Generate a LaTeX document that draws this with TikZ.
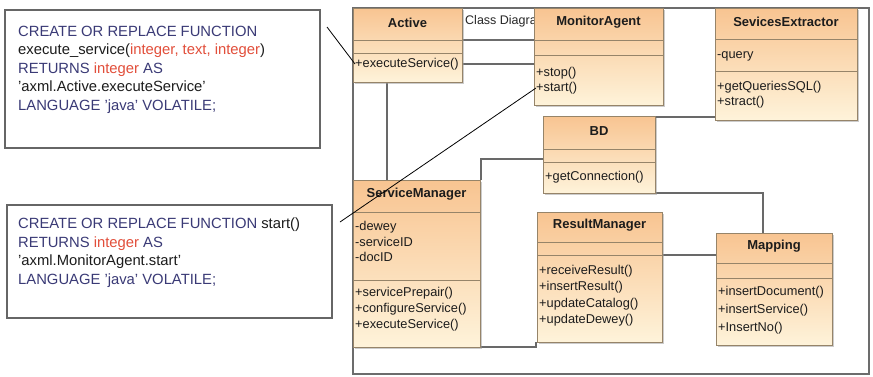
\documentclass[tikz,border=0pt]{standalone}
\usepackage{fontspec}
\setmainfont{Liberation Sans}
\usetikzlibrary{fit, shadows}
\definecolor{clsTop}  {RGB}{248,196,145}
\definecolor{clsBot}  {RGB}{254,243,218}
\definecolor{clsLine} {RGB}{150,132,105}
\definecolor{wire}    {RGB}{105,105,105}
\definecolor{kwBlue}  {RGB}{58,58,118}
\definecolor{kwRed}   {RGB}{226,78,58}
\definecolor{ink}     {RGB}{28,28,28}

% class box: name, left, top, right, bottom, rule 1, rule 2, title
\newcommand{\umlclass}[8]{%
  \node[cls, fit={(#2,#3) (#4,#5)}] (#1) {};
  \draw[crule] (#2,#6) -- (#4,#6);
  \draw[crule] (#2,#7) -- (#4,#7);
  \node[ctitle] (#1-t) at ({(#2+#4)/2},{(#3+#6)/2-1.5}) {#8};
}
% member lines: prefix, left, first y, step, list
\newcommand{\members}[5]{%
  \foreach \txt [count=\i] in {#5}
    \node[mem] (#1\i) at ({#2+2},{#3+(\i-1)*#4}) {\txt};
}

\begin{document}
\begin{tikzpicture}[x=1pt, y=-1pt,
  dframe/.style={draw=gray!85!black, line width=1.1pt, inner sep=0pt},
  cls/.style={draw=clsLine, line width=0.9pt, top color=clsTop, bottom color=clsBot,
    inner sep=0pt, drop shadow={shadow xshift=2pt, shadow yshift=-2pt, fill=black!40, opacity=0.5}},
  crule/.style={draw=clsLine, line width=0.8pt},
  ctitle/.style={font=\fontsize{13}{15}\selectfont\bfseries, text=ink, inner sep=0pt},
  mem/.style={font=\fontsize{12.8}{14}\selectfont, text=ink, anchor=west, inner sep=0pt},
  assoc/.style={draw=wire, line width=1.4pt},
  pointer/.style={draw=black, line width=0.8pt},
  codebox/.style={draw=gray!80!black, line width=1.1pt, fill=white, inner sep=0pt},
  sql/.style={font=\fontsize{14.8}{18.5}\selectfont, align=left, anchor=west, inner sep=0pt, text=ink}
]
  \useasboundingbox (0,0) rectangle (873,376);

  % SQL declarations
  \node[codebox, fit={(5,10) (320,148)}] (q1) {};
  \node[sql] (q1-t) at (18,69.5) {%
    \textcolor{kwBlue}{CREATE OR REPLACE FUNCTION}\\
    execute\_service(\textcolor{kwRed}{integer, text, integer})\\
    \textcolor{kwBlue}{RETURNS} \textcolor{kwRed}{integer} \textcolor{kwBlue}{AS}\\
    'axml.Active.executeService'\\
    \textcolor{kwBlue}{LANGUAGE 'java' VOLATILE;}};

  \node[codebox, fit={(7,205) (332,318)}] (q2) {};
  \node[sql] (q2-t) at (18,252.5) {%
    \textcolor{kwBlue}{CREATE OR REPLACE FUNCTION} start()\\
    \textcolor{kwBlue}{RETURNS} \textcolor{kwRed}{integer} \textcolor{kwBlue}{AS}\\
    'axml.MonitorAgent.start'\\
    \textcolor{kwBlue}{LANGUAGE 'java' VOLATILE;}};

  % diagram frame
  \node[dframe, fit={(353,8) (869,374)}] (diag) {};
  \node[font=\fontsize{12.5}{14}\selectfont, text=gray!30!black, anchor=west, inner sep=0pt]
    (diag-t) at (465,21) {Class Diagram};
  \draw[dframe] (462,40) -- (534,40);

  % associations
  \draw[assoc] (462,64) -- (534,64);
  \draw[assoc] (387,82) -- (387,180);
  \draw[assoc] (543,159) -| (481,180);
  \draw[assoc] (655,117) -- (715,117);
  \draw[assoc] (655,193) -| (763,233);
  \draw[assoc] (662,255) -- (716,255);
  \draw[assoc] (480,347) -| (536,342);

  % classes
  \umlclass{act}{353}{8}{462}{82}{40}{53}{Active}
  \members{act-o}{353}{64}{15}{+executeService()}

  \umlclass{mon}{534}{8}{663}{105}{40}{55}{MonitorAgent}
  \members{mon-o}{534}{73}{15}{+stop(),+start()}

  \umlclass{se}{715}{8}{857}{120}{39}{71}{SevicesExtractor}
  \members{se-a}{715}{56}{15}{-query}
  \members{se-o}{715}{87}{15}{+getQueriesSQL(),+stract()}

  \umlclass{bd}{543}{116}{655}{193}{149}{162}{BD}
  \members{bd-o}{543}{177}{15}{+getConnection()}

  \umlclass{sm}{353}{180}{480}{347}{212}{280}{ServiceManager}
  \members{sm-a}{353}{227}{15}{-dewey,-serviceID,-docID}
  \members{sm-o}{353}{293}{16}{+servicePrepair(),+configureService(),+executeService()}

  \umlclass{rm}{537}{212}{662}{342}{242}{255}{ResultManager}
  \members{rm-o}{537}{271}{16.5}{+receiveResult(),+insertResult(),+updateCatalog(),+updateDewey()}

  \umlclass{map}{716}{233}{832}{345}{263}{278}{Mapping}
  \members{map-o}{716}{292}{18}{+insertDocument(),+insertService(),+InsertNo()}

  % pointers from the SQL boxes
  \coordinate (p1) at (327,27);
  \coordinate (p2) at (340,222);
  \draw[pointer] (p1) -- (act-o1.west);
  \draw[pointer] (p2) -- (mon-o2.west);
\end{tikzpicture}
\end{document}
